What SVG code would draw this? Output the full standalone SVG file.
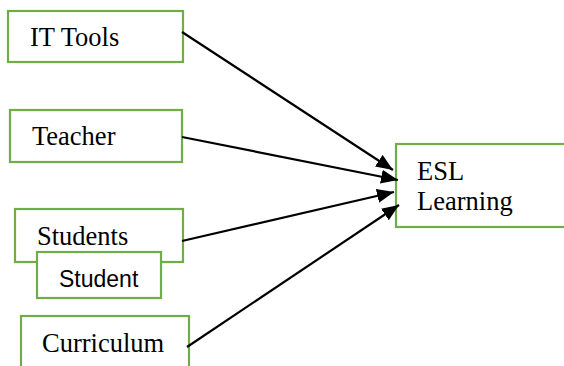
<svg xmlns="http://www.w3.org/2000/svg" width="564" height="366" viewBox="0 0 564 366">
<style>
.box{fill:#fff;stroke:#70AD47;stroke-width:2.2}
.t{font-family:"Liberation Serif","Times New Roman",serif;font-size:26.5px;fill:#000}
.s{font-family:"Liberation Sans",Arial,sans-serif;font-size:23px;fill:#000}
.c{stroke:#000;stroke-width:2.2;fill:none;marker-end:url(#ah)}
</style>
<defs>
<marker id="ah" markerUnits="userSpaceOnUse" markerWidth="18" markerHeight="14" refX="17" refY="7" orient="auto">
<path d="M0,0 L17,7 L0,14 Z" fill="#000"/>
</marker>
</defs>
<rect width="564" height="366" fill="#fff"/>
<g id="it-tools"><rect class="box" x="8" y="11" width="175" height="51"/><text class="t" x="30" y="46">IT Tools</text></g>
<g id="teacher"><rect class="box" x="10" y="110" width="172" height="52"/><text class="t" x="32" y="145">Teacher</text></g>
<g id="students"><rect class="box" x="15" y="209" width="168" height="53"/><text class="t" x="37" y="245">Students</text></g>
<g id="student"><rect class="box" x="37" y="252" width="124" height="46"/><text class="s" x="59" y="287">Student</text></g>
<g id="curriculum"><rect class="box" x="21" y="316" width="168" height="60"/><text class="t" x="42" y="352">Curriculum</text></g>
<g id="esl-learning"><rect class="box" x="396" y="144" width="172" height="83"/><text class="t" x="417" y="180">ESL</text><text class="t" x="417" y="210">Learning</text></g>
<g id="connectors">
<line class="c" x1="182" y1="32" x2="393" y2="170"/>
<line class="c" x1="182" y1="137" x2="398" y2="180"/>
<line class="c" x1="182" y1="241" x2="394" y2="192"/>
<line class="c" x1="187" y1="347" x2="399" y2="205"/>
</g>
</svg>
